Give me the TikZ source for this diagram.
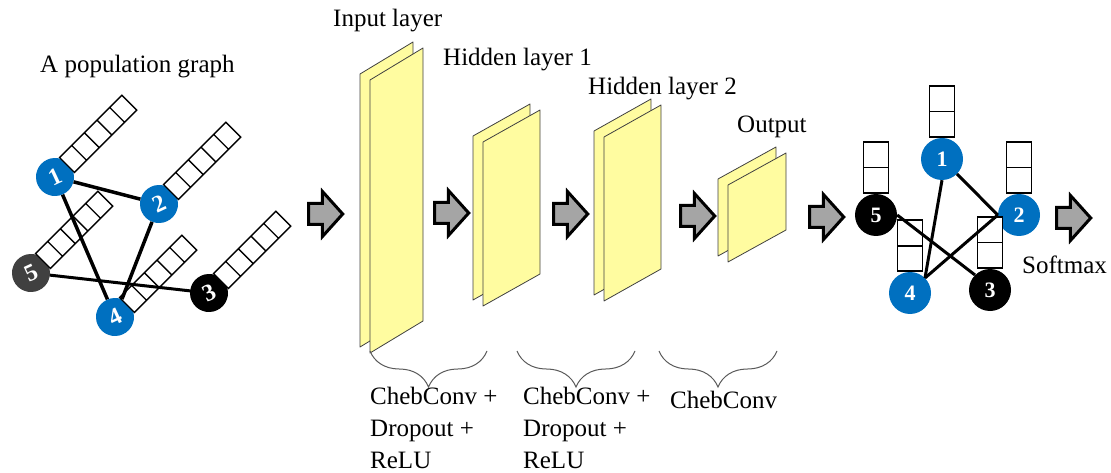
\documentclass[tikz,border=0pt]{standalone}
\usepackage{fontspec}
\setmainfont{Liberation Serif}
\usepackage{tikz}
\usetikzlibrary{positioning,calc}
\usetikzlibrary{shapes.arrows,shapes.multipart}
\usetikzlibrary{decorations.pathreplacing}

\definecolor{nodeblue}{RGB}{0,112,192}
\definecolor{darknode}{RGB}{64,64,64}
\definecolor{sheetyellow}{RGB}{255,252,160}
\definecolor{arrowgray}{RGB}{165,165,165}

\begin{document}
\begin{tikzpicture}[x=1pt,y=-1pt,
    sheet/.style={fill=sheetyellow,draw=black!75,line width=0.8pt,line join=round},
    bigarrow/.style={single arrow,draw=black,line width=3pt,fill=arrowgray,
        inner xsep=0pt,inner ysep=9pt,minimum height=34pt,minimum width=42pt,
        single arrow head extend=12pt,single arrow tip angle=96},
    featbar/.style={rectangle split,rectangle split horizontal,rectangle split parts=5,
        draw,fill=white,line width=1.3pt,inner sep=0pt,
        rectangle split empty part width=12pt,minimum height=21pt,
        rotate=45,anchor=west},
    outbar/.style={rectangle split,rectangle split parts=2,
        draw,fill=white,line width=1.8pt,inner sep=0pt,minimum width=25pt,
        rectangle split empty part height=23.5pt,rectangle split empty part depth=0pt,
        anchor=south},
    layerbrace/.style={decorate,decoration={brace,mirror,amplitude=36pt},
        draw=black!65,line width=1pt},
    lbl/.style={font=\fontsize{25}{32}\selectfont,inner sep=0pt}]

\useasboundingbox (0,0) rectangle (1111,473);

% population graph
\begin{scope}[every node/.style={circle,minimum size=38pt,inner sep=0pt,text=white,
        font=\fontsize{24}{24}\selectfont\bfseries,rotate=25}]
    \node[fill=nodeblue] (p1) at (55,177) {1};
    \node[fill=nodeblue] (p2) at (159,204) {2};
    \node[fill=black] (p3) at (209,293) {3};
    \node[fill=nodeblue] (p4) at (115,317) {4};
    \node[fill=darknode] (p5) at (31,273) {5};
\end{scope}

\node[featbar] (pb1) at ($(p1.center)+(11.5,-11.5)$) {};
\node[featbar] (pb2) at ($(p2.center)+(11.5,-11.5)$) {};
\node[featbar] (pb3) at ($(p3.center)+(11.5,-11.5)$) {};
\node[featbar] (pb4) at ($(p4.center)+(11.5,-11.5)$) {};
\node[featbar] (pb5) at ($(p5.center)+(11.5,-11.5)$) {};

\begin{scope}[every edge/.style={draw=black,line width=3.5pt}]
    \path [-] (p1) edge (p2);
    \path [-] (p1) edge (p4);
    \path [-] (p2) edge (p4);
    \path [-] (p5) edge[line width=3pt] (p3);
\end{scope}

% layers
\foreach \x/\y/\w/\h in {370/80/53/273, 483/142/57/164, 604/137/57/164, 728/185/58/77} {
    \draw[sheet] (\x-10,\y-6) -- ++(\w,-32) -- ++(0,\h) -- ++(-\w,32) -- cycle;
    \draw[sheet] (\x,\y) -- ++(\w,-32) -- ++(0,\h) -- ++(-\w,32) -- cycle;
}

% arrows
\node[bigarrow] (a1) at (321,214) {};
\node[bigarrow] (a2) at (447,213) {};
\node[bigarrow] (a3) at (566,214) {};
\node[bigarrow] (a4) at (693,216) {};
\node[bigarrow] (a5) at (822,217) {};
\node[bigarrow] (a6) at (1069,218) {};

% output graph
\begin{scope}[every node/.style={circle,minimum size=42pt,inner sep=0pt,text=white,
        font=\fontsize{22}{22}\selectfont\bfseries}]
    \node[fill=nodeblue] (o1) at (942,159) {1};
    \node[fill=nodeblue] (o2) at (1019,215) {2};
    \node[fill=black] (o3) at (990,290) {3};
    \node[fill=nodeblue] (o4) at (910,293) {4};
    \node[fill=black] (o5) at (876,215) {5};
\end{scope}

\node[outbar] (ob1) at (o1.north) {};
\node[outbar] (ob2) at (o2.north) {};
\node[outbar] (ob3) at (o3.north) {};
\node[outbar] (ob4) at (o4.north) {};
\node[outbar] (ob5) at (o5.north) {};

\begin{scope}[every edge/.style={draw=black,line width=3pt}]
    \path [-] (o1.south) edge (o4.north east);
    \path [-] (o1) edge (o2.west);
    \path [-] (o2.west) edge (o4.north east);
    \path [-] (o5.east) edge (o3.north west);
\end{scope}

% braces
\draw[layerbrace] (370,351) -- (487,351);
\draw[layerbrace] (517,351) -- (635,351);
\draw[layerbrace] (659,351) -- (777,351);

% labels
\node[lbl,anchor=base west] (title) at (40,73) {A population graph};
\node[lbl,anchor=base west] (inlabel) at (333,27) {Input layer};
\node[lbl,anchor=base west] (h1label) at (443,66) {Hidden layer 1};
\node[lbl,anchor=base west] (h2label) at (588,95) {Hidden layer 2};
\node[lbl,anchor=base west] (outlabel) at (737,133) {Output};
\node[lbl,anchor=base west] (softlabel) at (1022,273) {Softmax};
\node[lbl,anchor=north west,align=left] (op1) at (370,387) {ChebConv +\\Dropout +\\ReLU};
\node[lbl,anchor=north west,align=left] (op2) at (523,387) {ChebConv +\\Dropout +\\ReLU};
\node[lbl,anchor=north west,align=left] (op3) at (670,391) {ChebConv};
\end{tikzpicture}
\end{document}
